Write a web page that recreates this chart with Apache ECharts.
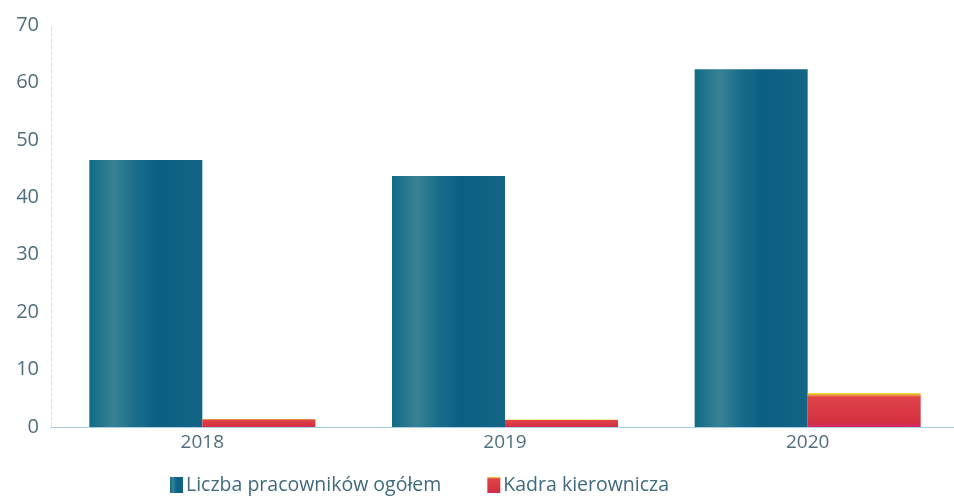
<!DOCTYPE html>
<html><head><meta charset="utf-8">
<script src="https://cdn.jsdelivr.net/npm/echarts@6/dist/echarts.min.js"></script>
<style>html,body{margin:0;padding:0;background:#fff}#c{width:954px;height:501px}</style>
</head><body><div id="c"></div>
<script>
const categories = ['2018', '2019', '2020'];
const totalEmployees = [46.5, 43.7, 62.3];
const management = [1.4, 1.3, 5.9];
const seriesNames = ['Liczba pracowników ogółem', 'Kadra kierownicza'];

const teal = {type:'linear',x:0,y:0,x2:1,y2:0,colorStops:[
  {offset:0,color:'#0f6a88'},{offset:0.22,color:'#3a8294'},{offset:0.4,color:'#1a6e8c'},
  {offset:0.6,color:'#0b5f82'},{offset:1,color:'#126584'}]};
const red = {type:'linear',x:0,y:0,x2:0,y2:1,colorStops:[
  {offset:0,color:'#f3e23c'},{offset:0.12,color:'#e0424a'},{offset:0.85,color:'#d3323f'},{offset:1,color:'#d42a6a'}]};

const chart = echarts.init(document.getElementById('c'));
chart.setOption({
  animation:false,
  textStyle:{fontFamily:'Open Sans'},
  grid:{left:51,width:908,top:25,bottom:74,outerBoundsMode:'none',containLabel:false},
  legend:{bottom:1,left:165,itemWidth:13,itemHeight:16,itemGap:46,icon:'rect',
    textStyle:{color:'#3f6a7e',fontSize:19.5,padding:[0,0,0,-2]},
    data:seriesNames},
  xAxis:{type:'category',data:categories,
    axisLine:{lineStyle:{color:'#a9d0e2'}},axisTick:{show:false},
    axisLabel:{color:'#4f6f7e',fontSize:19,margin:6}},
  yAxis:{type:'value',min:0,max:70,interval:10,
    axisLine:{show:true,lineStyle:{color:'#cfe0ea',type:'dashed'}},
    splitLine:{show:false},axisTick:{show:false},
    axisLabel:{color:'#4f6f7e',fontSize:20,margin:12}},
  series:[
    {name:seriesNames[0],type:'bar',data:totalEmployees,barWidth:113,barGap:'0%',
      itemStyle:{color:teal}},
    {name:seriesNames[1],type:'bar',data:management,barWidth:113,
      itemStyle:{color:red}}
  ]
});
</script></body></html>
